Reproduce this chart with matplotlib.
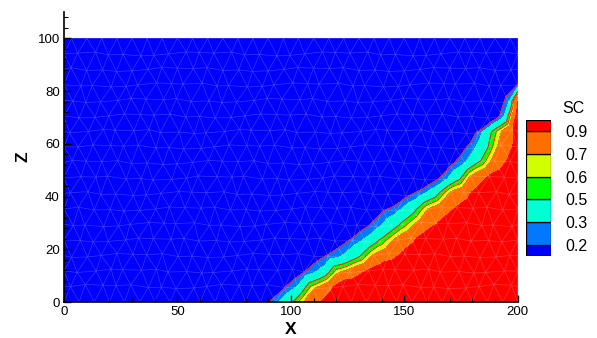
import numpy as np
import matplotlib
matplotlib.use("Agg")
import matplotlib.pyplot as plt
import matplotlib.tri as mtri
from matplotlib.ticker import MultipleLocator

plt.rcParams["font.family"] = ["Liberation Sans", "DejaVu Sans"]

# ---- data ----
# outer edge of the front (SC = 0.2) and inner edge (SC = 0.9), as x at given z
outer_z = [0.0, 7.1, 14.0, 17.8, 22.8, 28.5, 36.7, 39.9, 45.0, 47.5, 53.8, 68.3, 68.8, 70.8, 79.1, 81.6, 90.0, 100.0]
outer_x = [90.1, 99.6, 109.9, 115.8, 124.6, 133.5, 143.7, 151.1, 162.8, 165.8, 173.1, 184.9, 189.0, 194.4, 195.2, 199.6, 203.0, 205.0]
inner_z = [0.0, 5.0, 9.6, 11.0, 15.0, 27.3, 31.1, 46.2, 55.0, 72.7, 78.0, 100.0]
inner_x = [113.0, 118.0, 122.0, 130.5, 144.5, 159.0, 167.2, 184.9, 197.4, 198.9, 200.5, 230.0]
# SC across the front (0 = outer edge, 1 = inner edge)
t_knots = [-0.41, 0.0, 0.235, 0.48, 0.535, 0.61, 1.0, 1.2]
sc_knots = [0.0, 0.2, 0.3, 0.5, 0.6, 0.7, 0.9, 1.0]

levels = [0.2, 0.3, 0.5, 0.6, 0.7, 0.9]
colors = ["#0000ff", "#0078ff", "#00ffd2", "#00ff00", "#d2ff00", "#ff6e00", "#ff0000"]

# ---- mesh (offset lattice, nudged a bit so it looks unstructured) ----
nx, nz = 30, 17
dx, dz = 200 / nx, 100 / nz
wob = np.array([0.0, 0.32, -0.27, 0.15, -0.38, 0.24, -0.11, 0.36, -0.19])
px, pz = [], []
for j in range(nz + 1):
    if j % 2 == 0:
        xs = [i * dx for i in range(nx + 1)]
    else:
        xs = [0.0] + [(i + 0.5) * dx for i in range(nx)] + [200.0]
    for i, xv in enumerate(xs):
        zv = j * dz
        if 0 < xv < 200 and 0 < j < nz:
            xv += 0.35 * dx * wob[(3 * i + 5 * j) % 9]
            zv += 0.35 * dz * wob[(7 * i + 2 * j) % 9]
        px.append(xv)
        pz.append(zv)
px, pz = np.array(px), np.array(pz)
tri = mtri.Triangulation(px, pz)

x_out = np.interp(pz, outer_z, outer_x)
x_in = np.interp(pz, inner_z, inner_x)
t = (px - x_out) / (x_in - x_out)
sc = np.interp(t, t_knots, sc_knots)

fig = plt.figure(figsize=(5.97, 3.38), dpi=100)
ax = fig.add_axes([0.1072, 0.1065, 0.7601, 0.858])
ax.tricontourf(tri, sc, levels=[-1] + levels + [2], colors=colors)
ax.tricontour(tri, sc, levels=[0.2, 0.5, 0.6], colors="#ff1a1a", linewidths=0.7)
ax.triplot(tri, color="white", alpha=0.22, lw=0.5)

ax.set_xlim(0, 200)
ax.set_ylim(0, 110)
ax.spines[["top", "right"]].set_visible(False)
ax.spines[["left", "bottom"]].set_linewidth(1.2)
ax.xaxis.set_major_locator(MultipleLocator(50))
ax.xaxis.set_minor_locator(MultipleLocator(10))
ax.yaxis.set_major_locator(MultipleLocator(20))
ax.yaxis.set_minor_locator(MultipleLocator(4))
ax.set_yticks([0, 20, 40, 60, 80, 100])
ax.tick_params(which="both", direction="in", labelsize=9.5, pad=3)
ax.tick_params(which="major", length=5, width=1)
ax.tick_params(which="minor", length=3, width=0.8)
ax.set_xlabel("X", fontsize=12.5, fontweight="bold", labelpad=3)
ax.set_ylabel("Z", fontsize=12.5, fontweight="bold", labelpad=5)

# ---- legend bar ----
cax = fig.add_axes([0.8811, 0.2426, 0.0419, 0.4024])
bottoms = [-0.5, 0, 1, 2, 3, 4, 5]
heights = [0.5, 1, 1, 1, 1, 1, 0.5]
cax.bar([0.5] * 7, heights, width=1, bottom=bottoms, color=colors, edgecolor="black", lw=0.9)
cax.set_xlim(0, 1)
cax.set_ylim(-0.5, 5.5)
cax.set_xticks([])
cax.set_yticks(range(len(levels)))
cax.set_yticklabels([f"{v:g}" for v in levels], fontsize=11.5)
cax.yaxis.tick_right()
cax.tick_params(axis="y", length=0, pad=10)
for s in cax.spines.values():
    s.set_visible(False)
cax.text(1.45, 1.03, "SC", transform=cax.transAxes, fontsize=11.5, va="bottom", ha="left")

fig.savefig("out.png", dpi=100, facecolor="white")
